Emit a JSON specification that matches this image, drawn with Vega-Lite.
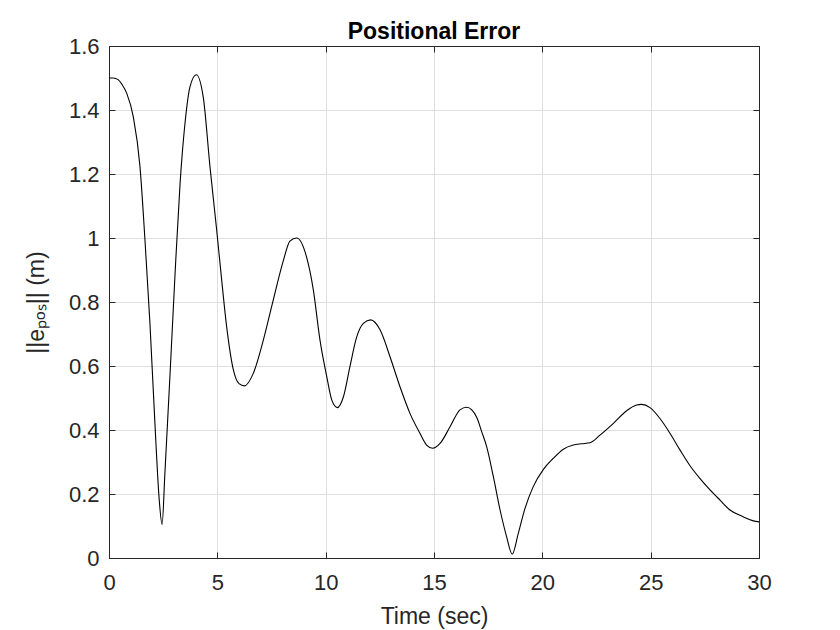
{
  "$schema": "https://vega.github.io/schema/vega-lite/v6.json",
  "width": 650,
  "height": 512,
  "autosize": {"type": "none"},
  "padding": {"left": 109, "top": 46, "right": 81, "bottom": 72},
  "background": "white",
  "title": {
    "text": "Positional Error",
    "font": "Liberation Sans",
    "fontSize": 23,
    "fontWeight": "bold",
    "color": "#000000",
    "anchor": "middle",
    "baseline": "alphabetic",
    "offset": 8,
    "dy": 35
  },
  "config": {
    "view": {"stroke": "#262626", "strokeWidth": 1},
    "axis": {
      "labelFont": "Liberation Sans",
      "titleFont": "Liberation Sans",
      "labelFontSize": 22,
      "titleFontSize": 23,
      "labelColor": "#262626",
      "titleColor": "#262626",
      "titleFontWeight": "normal",
      "domainColor": "#262626",
      "tickColor": "#262626",
      "gridColor": "#dfdfdf",
      "gridWidth": 1,
      "tickSize": -6,
      "labelFlush": false,
      "labelOverlap": false
    }
  },
  "data": {
    "values": [
      {"t": 0, "e": 1.5}, {"t": 0.2, "e": 1.5}, {"t": 0.42, "e": 1.495}, {"t": 0.6, "e": 1.48},
      {"t": 0.82, "e": 1.452}, {"t": 1.12, "e": 1.379}, {"t": 1.43, "e": 1.223}, {"t": 1.66, "e": 0.994},
      {"t": 1.89, "e": 0.733}, {"t": 2.12, "e": 0.42}, {"t": 2.32, "e": 0.18}, {"t": 2.45, "e": 0.105},
      {"t": 2.58, "e": 0.265}, {"t": 2.82, "e": 0.578}, {"t": 3.05, "e": 0.89}, {"t": 3.28, "e": 1.17},
      {"t": 3.51, "e": 1.36}, {"t": 3.74, "e": 1.473}, {"t": 4.03, "e": 1.51}, {"t": 4.35, "e": 1.44},
      {"t": 4.66, "e": 1.223}, {"t": 4.97, "e": 1.025}, {"t": 5.2, "e": 0.869}, {"t": 5.43, "e": 0.723},
      {"t": 5.74, "e": 0.588}, {"t": 6.0, "e": 0.545}, {"t": 6.25, "e": 0.538}, {"t": 6.66, "e": 0.577},
      {"t": 7.12, "e": 0.68}, {"t": 7.58, "e": 0.806}, {"t": 8.05, "e": 0.93}, {"t": 8.35, "e": 0.99},
      {"t": 8.66, "e": 1.0}, {"t": 9.12, "e": 0.94}, {"t": 9.43, "e": 0.838}, {"t": 9.74, "e": 0.68},
      {"t": 10.05, "e": 0.567}, {"t": 10.28, "e": 0.494}, {"t": 10.54, "e": 0.47}, {"t": 10.82, "e": 0.504},
      {"t": 11.12, "e": 0.598}, {"t": 11.43, "e": 0.69}, {"t": 11.74, "e": 0.733}, {"t": 12.08, "e": 0.744},
      {"t": 12.51, "e": 0.713}, {"t": 12.97, "e": 0.629}, {"t": 13.43, "e": 0.535}, {"t": 13.89, "e": 0.452},
      {"t": 14.35, "e": 0.39}, {"t": 14.66, "e": 0.353}, {"t": 14.94, "e": 0.343}, {"t": 15.28, "e": 0.358},
      {"t": 15.74, "e": 0.41}, {"t": 16.2, "e": 0.463}, {"t": 16.51, "e": 0.471}, {"t": 16.97, "e": 0.44},
      {"t": 17.2, "e": 0.395}, {"t": 17.43, "e": 0.348}, {"t": 17.74, "e": 0.254}, {"t": 18.05, "e": 0.15},
      {"t": 18.35, "e": 0.067}, {"t": 18.61, "e": 0.012}, {"t": 18.89, "e": 0.077}, {"t": 19.2, "e": 0.155},
      {"t": 19.58, "e": 0.223}, {"t": 20.05, "e": 0.277}, {"t": 20.5, "e": 0.311}, {"t": 20.97, "e": 0.34},
      {"t": 21.43, "e": 0.353}, {"t": 21.8, "e": 0.357}, {"t": 22.2, "e": 0.36}, {"t": 22.66, "e": 0.384},
      {"t": 23.27, "e": 0.42}, {"t": 23.89, "e": 0.46}, {"t": 24.35, "e": 0.478}, {"t": 24.58, "e": 0.48},
      {"t": 24.97, "e": 0.47}, {"t": 25.43, "e": 0.436}, {"t": 25.89, "e": 0.39}, {"t": 26.35, "e": 0.338},
      {"t": 26.8, "e": 0.29}, {"t": 27.27, "e": 0.249}, {"t": 27.74, "e": 0.213}, {"t": 28.2, "e": 0.181},
      {"t": 28.66, "e": 0.15}, {"t": 29.27, "e": 0.129}, {"t": 29.74, "e": 0.116}, {"t": 30, "e": 0.113}
    ]
  },
  "layer": [
    {
      "mark": {"type": "line", "color": "#000000", "strokeWidth": 1.1, "interpolate": "monotone"},
      "encoding": {
        "x": {
          "field": "t",
          "type": "quantitative",
          "scale": {"domain": [0, 30], "nice": false, "zero": false},
          "axis": {
            "orient": "bottom",
            "values": [0, 5, 10, 15, 20, 25, 30],
            "title": "Time (sec)",
            "labelPadding": 20,
            "titleBaseline": "alphabetic",
            "titleY": 65
          }
        },
        "y": {
          "field": "e",
          "type": "quantitative",
          "scale": {"domain": [0, 1.6], "nice": false},
          "axis": {
            "orient": "left",
            "values": [0, 0.2, 0.4, 0.6, 0.8, 1, 1.2, 1.4, 1.6],
            "format": "~g",
            "title": "||eₚₒₛ|| (m)",
            "labelPadding": 16,
            "titleBaseline": "alphabetic",
            "titleX": -66
          }
        }
      }
    },
    {
      "mark": {"type": "line", "strokeOpacity": 0, "interpolate": "monotone"},
      "encoding": {
        "x": {
          "field": "t",
          "type": "quantitative",
          "axis": {
            "orient": "top",
            "values": [0, 5, 10, 15, 20, 25, 30],
            "labels": false,
            "grid": false,
            "title": null
          }
        },
        "y": {
          "field": "e",
          "type": "quantitative",
          "axis": {
            "orient": "right",
            "values": [0, 0.2, 0.4, 0.6, 0.8, 1, 1.2, 1.4, 1.6],
            "labels": false,
            "grid": false,
            "title": null
          }
        }
      }
    }
  ],
  "resolve": {"axis": {"x": "independent", "y": "independent"}}
}
